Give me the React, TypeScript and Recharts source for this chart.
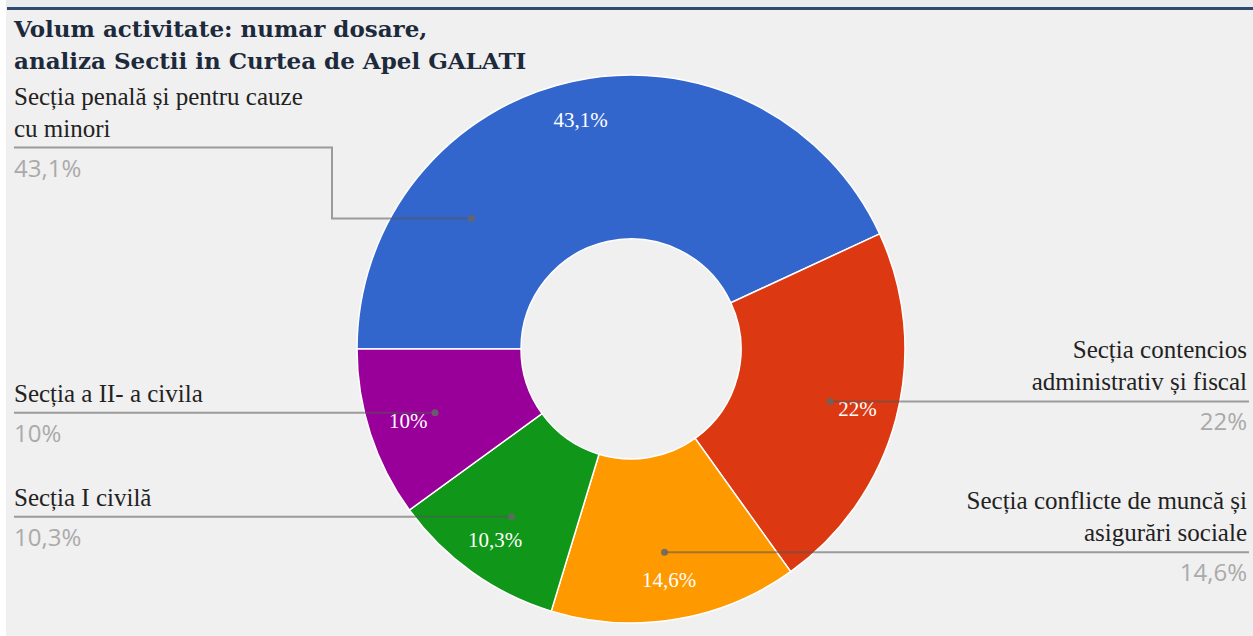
import React from 'react';
import { PieChart, Pie, Cell } from 'recharts';

const categories = [
  'Secția penală și pentru cauze cu minori',
  'Secția contencios administrativ și fiscal',
  'Secția conflicte de muncă și asigurări sociale',
  'Secția I civilă',
  'Secția a II- a civila',
];
const labelLines = [
  ['Secția penală și pentru cauze', 'cu minori'],
  ['Secția contencios', 'administrativ și fiscal'],
  ['Secția conflicte de muncă și', 'asigurări sociale'],
  ['Secția I civilă'],
  ['Secția a II- a civila'],
];
const values = [43.1, 22, 14.6, 10.3, 10];
const colors = ['#3366cc', '#dc3912', '#ff9900', '#109618', '#990099'];

const title = ['Volum activitate: numar dosare,', 'analiza Sectii in Curtea de Apel GALATI'];

// leader layout tweaks (styling only)
const anchorShift = [38.3, 0, 0, 0, 0];
const elbowRise = [71, 0, 0, 0, 0];
const elbowX = [332, 0, 0, 0, 0];

const data = categories.map((name, i) => ({ name, value: values[i] }));

const fmt = (v: number) => String(v).replace('.', ',') + '%';

const W = 1253;
const H = 636;
const LEFT_X = 14;
const RIGHT_X = 1247;

const renderLabel = (p: any) => {
  const { cx, cy, midAngle, outerRadius, index } = p;
  const RAD = Math.PI / 180;
  const rText = outerRadius * 0.855;
  const tx = cx + rText * Math.cos(-midAngle * RAD);
  const ty = cy + rText * Math.sin(-midAngle * RAD);
  const a = midAngle + anchorShift[index];
  const rDot = outerRadius * 0.752;
  const dx = cx + rDot * Math.cos(-a * RAD);
  const dy = cy + rDot * Math.sin(-a * RAD);
  const left = Math.cos(-a * RAD) < 0;
  const lineY = dy - elbowRise[index];
  const lines = labelLines[index];
  let path: string;
  if (left) {
    if (elbowRise[index]) {
      path = `M${LEFT_X},${lineY} L${elbowX[index]},${lineY} L${elbowX[index]},${dy} L${dx},${dy}`;
    } else {
      path = `M${LEFT_X},${dy} L${dx},${dy}`;
    }
  } else {
    path = `M${dx},${dy} L${RIGHT_X + 2},${dy}`;
  }
  const textX = left ? LEFT_X : RIGHT_X;
  const anchor = left ? 'start' : 'end';
  return (
    <g key={`lbl-${index}`}>
      <text
        x={tx}
        y={ty}
        textAnchor="middle"
        dominantBaseline="central"
        fill="#ffffff"
        fontFamily="'Liberation Serif', serif"
        fontSize={21}
      >
        {fmt(values[index])}
      </text>
      <path d={path} fill="none" stroke="#555" strokeOpacity={0.55} strokeWidth={2} />
      <circle cx={dx} cy={dy} r={3.5} fill="#666" fillOpacity={0.85} />
      {lines.map((ln, k) => (
        <text
          key={k}
          x={textX}
          y={lineY - 11 - (lines.length - 1 - k) * 32}
          textAnchor={anchor}
          fill="#222"
          fontFamily="'Liberation Serif', serif"
          fontSize={25}
        >
          {ln}
        </text>
      ))}
      <text
        x={textX}
        y={lineY + 29}
        textAnchor={anchor}
        fill="#aaaaaa"
        fontFamily="'Open Sans', sans-serif"
        fontSize={24}
      >
        {fmt(values[index])}
      </text>
    </g>
  );
};

export default function App() {
  return (
    <div style={{ position: 'absolute', left: 0, top: 0, width: W, height: H, background: '#f0f0f0', overflow: 'hidden' }}>
      <div style={{ position: 'absolute', left: 0, top: 0, width: W, height: 7, background: '#e9ecef' }} />
      <div style={{ position: 'absolute', left: 7, top: 7, width: W - 7, height: 3, background: '#2e4b6f' }} />
      <div style={{ position: 'absolute', left: 0, top: 0, width: 6, height: H, background: '#ffffff' }} />
      <div
        style={{
          position: 'absolute',
          left: 14,
          top: 13,
          fontFamily: "'DejaVu Serif', serif",
          fontWeight: 'bold',
          fontSize: 23,
          lineHeight: '32px',
          color: '#1d2a3b',
          whiteSpace: 'nowrap',
        }}
      >
        {title.map((t, i) => (
          <div key={i}>{t}</div>
        ))}
      </div>
      <div style={{ position: 'absolute', left: 0, top: 0 }}>
        <PieChart width={W} height={H} margin={{ top: 0, right: 0, bottom: 0, left: 0 }}>
          <Pie
            data={data}
            dataKey="value"
            nameKey="name"
            cx={631}
            cy={349}
            innerRadius={110}
            outerRadius={274}
            startAngle={180}
            endAngle={-180}
            stroke="#ffffff"
            strokeWidth={1.5}
            label={renderLabel}
            labelLine={false}
            isAnimationActive={false}
          >
            {data.map((d, i) => (
              <Cell key={d.name} fill={colors[i]} />
            ))}
          </Pie>
        </PieChart>
      </div>
    </div>
  );
}
